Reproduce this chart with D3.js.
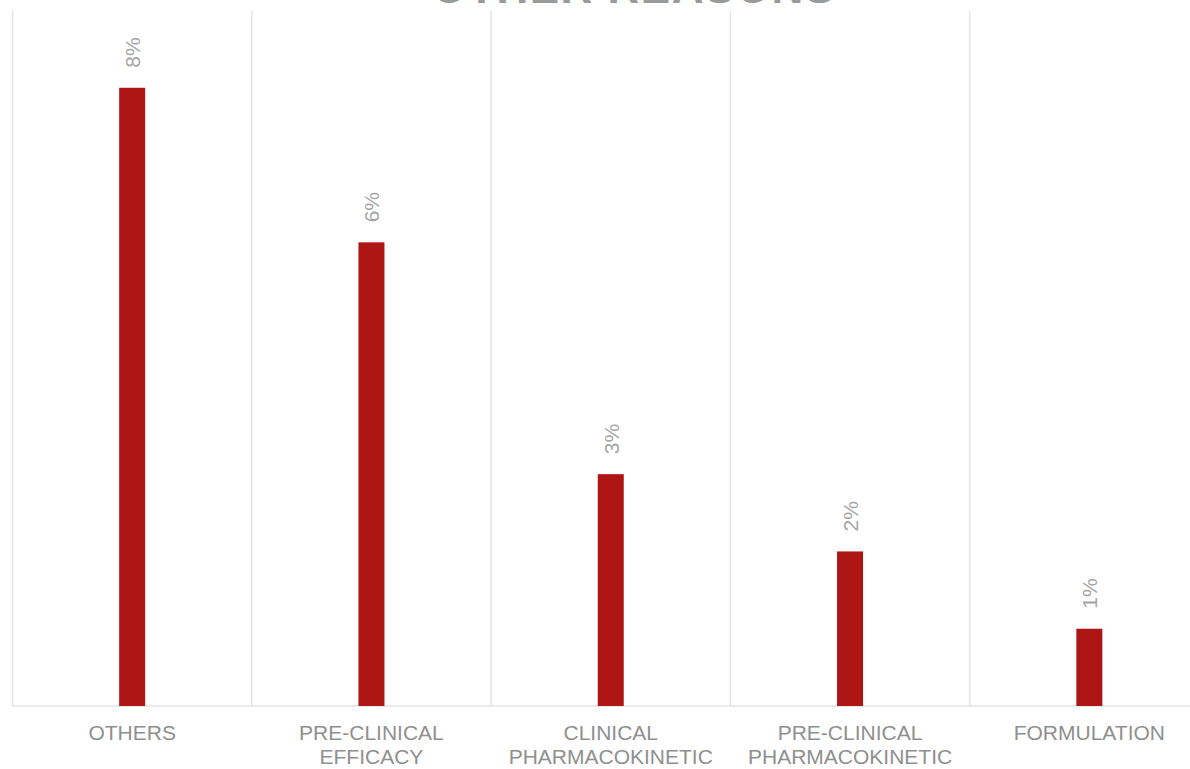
<!DOCTYPE html>
<html>
<head>
<meta charset="utf-8">
<script src="https://cdn.jsdelivr.net/npm/d3@7"></script>
<style>
  body { margin: 0; background: #fff; }
  svg { display: block; font-family: "Liberation Sans", Arial, sans-serif; }
</style>
</head>
<body>
<div id="chart"></div>
<script>
const categories = [
    ["OTHERS"],
    ["PRE-CLINICAL", "EFFICACY"],
    ["CLINICAL", "PHARMACOKINETIC"],
    ["PRE-CLINICAL", "PHARMACOKINETIC"],
    ["FORMULATION"]
];
const values = [8, 6, 3, 2, 1];
const labels = ["8%", "6%", "3%", "2%", "1%"];
const title = "OTHER REASONS";

const width = 1190, height = 769;
const plotLeft = 12.5, bandW = 239.3;
const plotTop = 10.5, plotBottom = 706;

const svg = d3.select('#chart').append('svg')
    .attr('width', width)
    .attr('height', height);

const keys = categories.map(d => d.join(' '));

const x = d3.scaleBand()
    .domain(keys)
    .range([plotLeft, plotLeft + bandW * keys.length])
    .padding(0);

const y = d3.scaleLinear()
    .domain([0, 9])
    .range([plotBottom, plotTop]);

// vertical separators
svg.append('g').selectAll('line')
    .data(keys)
  .enter().append('line')
    .attr('x1', d => x(d))
    .attr('x2', d => x(d))
    .attr('y1', plotTop)
    .attr('y2', plotBottom)
    .style('stroke', '#e3e3e3')
    .style('stroke-width', '1.5px');

// baseline
svg.append('line')
    .attr('x1', plotLeft)
    .attr('x2', width)
    .attr('y1', plotBottom)
    .attr('y2', plotBottom)
    .style('stroke', '#e3e3e3')
    .style('stroke-width', '1.5px');

const barW = 26;

svg.append('g').selectAll('rect')
    .data(values)
  .enter().append('rect')
    .attr('x', (d, i) => x(keys[i]) + x.bandwidth() / 2 - barW / 2)
    .attr('y', d => y(d))
    .attr('width', barW)
    .attr('height', d => plotBottom - y(d))
    .style('fill', '#ad1614');

svg.append('g').selectAll('text')
    .data(values)
  .enter().append('text')
    .attr('transform', (d, i) => `translate(${x(keys[i]) + x.bandwidth() / 2 + 8},${y(d) - 20}) rotate(-90)`)
    .attr('font-size', '21px')
    .attr('fill', '#a6a6a6')
    .text((d, i) => labels[i]);

// category labels
const cat = svg.append('g').selectAll('text')
    .data(categories)
  .enter().append('text')
    .attr('x', (d, i) => x(keys[i]) + x.bandwidth() / 2)
    .attr('y', 740)
    .attr('text-anchor', 'middle')
    .attr('font-size', '21px')
    .attr('fill', '#8f8f8f');

cat.selectAll('tspan')
    .data(d => d)
  .enter().append('tspan')
    .attr('x', function() { return d3.select(this.parentNode).attr('x'); })
    .attr('dy', (d, i) => i === 0 ? 0 : 24)
    .text(d => d);

svg.append('text')
    .attr('x', 634)
    .attr('y', 3)
    .attr('text-anchor', 'middle')
    .attr('font-size', '44px')
    .attr('font-weight', 'bold')
    .attr('letter-spacing', '1.5px')
    .attr('fill', '#9a9a9a')
    .text(title);
</script>
</body>
</html>
